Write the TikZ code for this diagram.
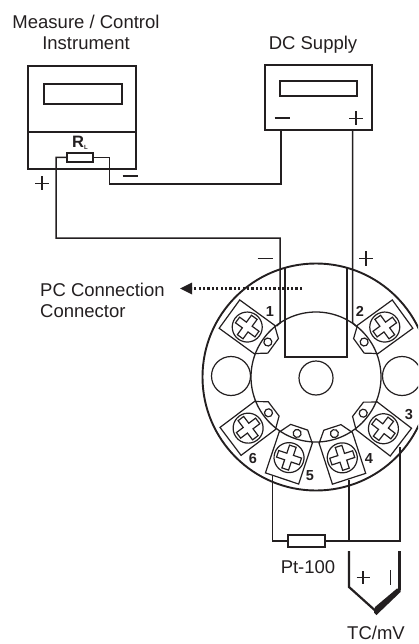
\documentclass[tikz,border=0pt]{standalone}
\usepackage{fontspec}
\setmainfont{Liberation Sans}
\usetikzlibrary{arrows.meta}
\definecolor{ink}{HTML}{231F20}
\tikzset{
  wire/.style={draw=ink,line width=1.5pt,line join=miter},
  heavy/.style={draw=ink,line width=1.8pt},
  thin part/.style={draw=ink,line width=1.2pt},
  label/.style={font=\fontsize{18.5}{21}\selectfont,text=ink,inner sep=0pt,align=center},
  pin/.style={font=\bfseries\fontsize{14.5}{16}\selectfont,text=ink,inner sep=0pt},
  sign/.style={draw=ink,line width=1.9pt}
}
\newcommand{\terminal}[1]{%
  \begin{scope}[shift={(316,377)},rotate=#1,x=1pt,y=1pt]
    \draw[thin part] (63,-17.5) -- (107,-17.5) -- (107,17.5) -- (63,17.5);
    \draw[thin part] (64,-17.5) -- (53,-9) -- (53,9) -- (64,17.5);
    \draw[thin part] (59.5,0) circle (4);
    \draw[thin part] (85,0) circle (15);
    \draw[thin part] (81.5,-12) -- (88.5,-12) -- (88.5,-3.5) -- (97,-3.5) -- (97,3.5) -- (88.5,3.5) -- (88.5,12)
      -- (81.5,12) -- (81.5,3.5) -- (73,3.5) -- (73,-3.5) -- (81.5,-3.5) -- cycle;
  \end{scope}}
\begin{document}
\begin{tikzpicture}[x=1pt,y=-1pt]
\clip (0,0) rectangle (418,644);
\useasboundingbox (0,0) rectangle (418,644);
% labels
\node[label] (lmeasure) at (86,32) {Measure / Control\\Instrument};
\node[label] (ldc) at (313,45) {DC Supply};
\node[label,align=left,anchor=west] (lpc) at (40,300.5) {PC Connection\\Connector};
\node[label] (lpt) at (308,567) {Pt-100};
\node[label] (ltc) at (376,633) {TC/mV};
% instrument
\node[heavy,minimum width=108pt,minimum height=103pt,inner sep=0pt] (inst) at (82,117.5) {};
\node[heavy,minimum width=78pt,minimum height=20pt,inner sep=0pt] (instd) at (83,94) {};
\coordinate (divl) at (28,132); \coordinate (divr) at (136,132);
\draw[heavy] (divl) -- (divr);
\node[wire,line width=2pt,fill=white,minimum width=26pt,minimum height=9pt,inner sep=0pt] (rl) at (80,157.5) {};
\node[font=\bfseries\fontsize{16.5}{17}\selectfont,text=ink,inner sep=0pt] (rltext) at (80,143) {R\raisebox{-1.5pt}{\fontsize{6}{6}\selectfont L}};
% dc supply
\node[heavy,minimum width=107pt,minimum height=65pt,inner sep=0pt] (dc) at (318.5,97.5) {};
\node[heavy,minimum width=77pt,minimum height=15pt,inner sep=0pt] (dcd) at (318.5,88.5) {};
% signs
\coordinate (dm1) at (274.5,118); \coordinate (dm2) at (289.5,118); \draw[sign] (dm1) -- (dm2);
\coordinate (dp1) at (349,118.5); \coordinate (dp2) at (363,118.5); \coordinate (dp3) at (356,111.5); \coordinate (dp4) at (356,125.5);
\draw[sign] (dp1) -- (dp2); \draw[sign] (dp3) -- (dp4);
\coordinate (im1) at (122.5,176); \coordinate (im2) at (137.5,176); \draw[sign] (im1) -- (im2);
\coordinate (ip1) at (35,183.5); \coordinate (ip2) at (49,183.5); \coordinate (ip3) at (42,176.5); \coordinate (ip4) at (42,190.5);
\draw[sign] (ip1) -- (ip2); \draw[sign] (ip3) -- (ip4);
\coordinate (tm1) at (257.5,258.5); \coordinate (tm2) at (272.5,258.5); \draw[sign] (tm1) -- (tm2);
\coordinate (tp1) at (359,258.5); \coordinate (tp2) at (373,258.5); \coordinate (tp3) at (366,251); \coordinate (tp4) at (366,266);
\draw[sign] (tp1) -- (tp2); \draw[sign] (tp3) -- (tp4);
% transmitter
\coordinate (hc) at (316,377);
\draw[draw=ink,line width=1.9pt] (hc) circle (113.5);
\draw[draw=ink,line width=1.3pt] (hc) circle (65);
\draw[thin part] (316,378) circle (17);
\draw[thin part] (231,376) circle (19.5);
\draw[thin part] (402,376) circle (19.5);
\foreach \a in {144,36,-37.5,-143,-108.5,-72}{\terminal{\a}}
\coordinate (ca) at (285,267.5); \coordinate (cb) at (347.3,267.5);
\coordinate (cc) at (347.3,357.3); \coordinate (cd) at (285,357.3);
\draw[heavy] (ca) -- (cd) -- (cc) -- (cb);
% pin numbers
\node[pin] (p1) at (270,312) {1};
\node[pin] (p2) at (360,311) {2};
\node[pin] (p3) at (409,415) {3};
\node[pin] (p4) at (369,458.5) {4};
\node[pin] (p5) at (310,475.5) {5};
\node[pin] (p6) at (253,458.5) {6};
% terminals' wire ends
\coordinate (t1) at (280,323); \coordinate (t2) at (352.7,323);
\coordinate (t1e) at (276.5,326); \coordinate (t2e) at (356,326);
\coordinate (t3) at (400,447); \coordinate (t4) at (349,480); \coordinate (t5) at (272.3,476);
% wires
\draw[wire] (rl.west) -- (56,157.5) -- (56,238) -- (280,238) -- (t1) -- (t1e);
\draw[wire] (rl.east) -- (109.5,157.5) -- (109.5,184) -- (281,184) -- (281,130);
\draw[wire] (352.7,130) -- (t2) -- (t2e);
% bottom
\node[wire,line width=1.8pt,minimum width=37pt,minimum height=12pt,inner sep=0pt] (pt) at (306.5,541) {};
\draw[wire] (t5) -- (272.3,541) -- (pt.west);
\draw[wire] (pt.east) -- (400,541) -- (t3);
\draw[wire] (t4) -- (349,541);
% thermocouple
\coordinate (tca) at (349,551); \coordinate (tcb) at (349,587); \coordinate (tcc) at (375.7,611);
\coordinate (tcd) at (399.5,590); \coordinate (tce) at (399.5,551);
\draw[draw=ink,line width=2.2pt] (tca) -- (tcb) -- (tcc);
\draw[draw=ink,line width=2.2pt] (tcd) -- (tce);
\fill[ink] (375,607) -- (397,588.5) -- (400.5,588.5) -- (400.5,592) -- (376.5,615) -- (374,612.5) -- cycle;
\coordinate (sa) at (356.5,577.5); \coordinate (sb) at (369.5,577.5); \coordinate (sc) at (363,571); \coordinate (sd) at (363,584);
\draw[sign] (sa) -- (sb); \draw[sign] (sc) -- (sd);
\coordinate (se) at (390.5,570); \coordinate (sf) at (390.5,585);
\draw[draw=ink,line width=1.4pt] (se) -- (sf);
% dotted arrow
\coordinate (da) at (302,288.5); \coordinate (db) at (192,288.5);
\draw[draw=ink,line width=2.4pt,dash pattern=on 2.2pt off 2.2pt] (da) -- (db);
\fill[ink] (180,288.5) -- (192,282.5) -- (192,294.5) -- cycle;
\end{tikzpicture}
\end{document}
